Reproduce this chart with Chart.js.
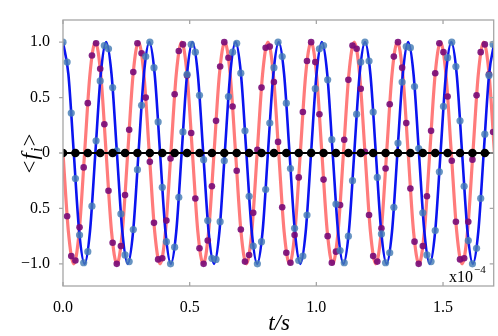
<!DOCTYPE html>
<html>
<head>
<meta charset="utf-8">
<script src="https://cdn.jsdelivr.net/npm/chart.js@4.4.1/dist/chart.umd.min.js"></script>
<style>
  html, body { margin: 0; padding: 0; background: #fff; }
  #wrap { width: 498px; height: 336px; position: relative; }
</style>
</head>
<body>
<div id="wrap"><canvas id="chartCanvas"></canvas></div>
<script>
// time axis in units of 1e-4 s
const xTickVals = [0, 0.5, 1.0, 1.5];
const xTickLabels = ['0.0', '0.5', '1.0', '1.5'];
const yTickVals = [-1, -0.5, 0, 0.5, 1];
const yTickLabels = ['\u22121.0', '0.5', '0', '0.5', '1.0'];

// smooth curves (read at peaks, crossings and half-way points)
const curveT = [0, 0.0213, 0.0426, 0.0639, 0.0852, 0.1064, 0.1277, 0.1490, 0.1703, 0.1916,
  0.2129, 0.2342, 0.2555, 0.2767, 0.2980, 0.3193, 0.3406, 0.3619, 0.3832, 0.4045,
  0.4258, 0.4470, 0.4683, 0.4896, 0.5109, 0.5322, 0.5535, 0.5748, 0.5961, 0.6174,
  0.6386, 0.6599, 0.6812, 0.7025, 0.7238, 0.7451, 0.7664, 0.7877, 0.8089, 0.8302,
  0.8515, 0.8728, 0.8941, 0.9154, 0.9367, 0.9580, 0.9792, 1.0005, 1.0218, 1.0431,
  1.0644, 1.0857, 1.1070, 1.1283, 1.1496, 1.1708, 1.1921, 1.2134, 1.2347, 1.2560,
  1.2773, 1.2986, 1.3199, 1.3411, 1.3624, 1.3837, 1.4050, 1.4263, 1.4476, 1.4689,
  1.4902, 1.5114, 1.5327, 1.5540, 1.5753, 1.5966, 1.6179, 1.6392, 1.6605, 1.6818, 1.7030];
const blueCurve = [1, 0.71, 0, -0.71, -1, -0.71, 0, 0.71, 1, 0.71,
  0, -0.71, -1, -0.71, 0, 0.71, 1, 0.71, 0, -0.71,
  -1, -0.71, 0, 0.71, 1, 0.71, 0, -0.71, -1, -0.71,
  0, 0.71, 1, 0.71, 0, -0.71, -1, -0.71, 0, 0.71,
  1, 0.71, 0, -0.71, -1, -0.71, 0, 0.71, 1, 0.71,
  0, -0.71, -1, -0.71, 0, 0.71, 1, 0.71, 0, -0.71,
  -1, -0.71, 0, 0.71, 1, 0.71, 0, -0.71, -1, -0.71,
  0, 0.71, 1, 0.71, 0, -0.71, -1, -0.71, 0, 0.71, 1];
const pinkCurve = [0, -0.71, -1, -0.71, 0, 0.71, 1, 0.71, 0, -0.71,
  -1, -0.71, 0, 0.71, 1, 0.71, 0, -0.71, -1, -0.71,
  0, 0.71, 1, 0.71, 0, -0.71, -1, -0.71, 0, 0.71,
  1, 0.71, 0, -0.71, -1, -0.71, 0, 0.71, 1, 0.71,
  0, -0.71, -1, -0.71, 0, 0.71, 1, 0.71, 0, -0.71,
  -1, -0.71, 0, 0.71, 1, 0.71, 0, -0.71, -1, -0.71,
  0, 0.71, 1, 0.71, 0, -0.71, -1, -0.71, 0, 0.71,
  1, 0.71, 0, -0.71, -1, -0.71, 0, 0.71, 1, 0.71, 0];

// sampled points
const sampleT = [0, 0.0163, 0.0326, 0.0490, 0.0653, 0.0816, 0.0979, 0.1143, 0.1306, 0.1469,
  0.1632, 0.1796, 0.1959, 0.2122, 0.2285, 0.2449, 0.2612, 0.2775, 0.2938, 0.3102,
  0.3265, 0.3428, 0.3591, 0.3755, 0.3918, 0.4081, 0.4244, 0.4407, 0.4571, 0.4734,
  0.4897, 0.5060, 0.5224, 0.5387, 0.5550, 0.5713, 0.5877, 0.6040, 0.6203, 0.6366,
  0.6530, 0.6693, 0.6856, 0.7019, 0.7183, 0.7346, 0.7509, 0.7672, 0.7836, 0.7999,
  0.8162, 0.8325, 0.8488, 0.8652, 0.8815, 0.8978, 0.9141, 0.9305, 0.9468, 0.9631,
  0.9794, 0.9958, 1.0121, 1.0284, 1.0447, 1.0611, 1.0774, 1.0937, 1.1100, 1.1264,
  1.1427, 1.1590, 1.1753, 1.1917, 1.2080, 1.2243, 1.2406, 1.2569, 1.2733, 1.2896,
  1.3059, 1.3222, 1.3386, 1.3549, 1.3712, 1.3875, 1.4039, 1.4202, 1.4365, 1.4528,
  1.4692, 1.4855, 1.5018, 1.5181, 1.5345, 1.5508, 1.5671, 1.5834, 1.5997, 1.6161,
  1.6324, 1.6487, 1.6650, 1.6814, 1.6977];
const blueDots = [1.00, 0.82, 0.36, -0.23, -0.74, -0.99, -0.89, -0.48, 0.11, 0.65,
  0.97, 0.94, 0.59, 0.02, -0.55, -0.92, -0.98, -0.69, -0.15, 0.43,
  0.87, 1.00, 0.77, 0.28, -0.31, -0.80, -1.00, -0.85, -0.40, 0.19,
  0.71, 0.98, 0.91, 0.52, -0.06, -0.61, -0.95, -0.96, -0.62, -0.07,
  0.51, 0.91, 0.99, 0.72, 0.20, -0.39, -0.84, -1.00, -0.80, -0.33,
  0.27, 0.77, 1.00, 0.87, 0.45, -0.14, -0.68, -0.97, -0.93, -0.56,
  0.01, 0.58, 0.94, 0.97, 0.66, 0.12, -0.46, -0.88, -0.99, -0.75,
  -0.25, 0.35, 0.82, 1.00, 0.83, 0.37, -0.22, -0.73, -0.99, -0.90,
  -0.49, 0.09, 0.64, 0.96, 0.95, 0.60, 0.04, -0.54, -0.92, -0.98,
  -0.70, -0.17, 0.42, 0.86, 1.00, 0.78, 0.29, -0.30, -0.79, -1.00,
  -0.86, -0.41, 0.17, 0.70, 0.98];
const pinkDots = [0.00, -0.57, -0.93, -0.97, -0.67, -0.13, 0.45, 0.88, 0.99, 0.76,
  0.26, -0.34, -0.81, -1.00, -0.84, -0.38, 0.21, 0.73, 0.99, 0.90,
  0.50, -0.08, -0.63, -0.96, -0.95, -0.61, -0.05, 0.53, 0.92, 0.98,
  0.70, 0.18, -0.41, -0.86, -1.00, -0.79, -0.30, 0.29, 0.78, 1.00,
  0.86, 0.42, -0.16, -0.69, -0.98, -0.92, -0.54, 0.03, 0.59, 0.95,
  0.96, 0.64, 0.10, -0.49, -0.90, -0.99, -0.74, -0.22, 0.37, 0.83,
  1.00, 0.82, 0.35, -0.24, -0.75, -0.99, -0.89, -0.47, 0.12, 0.66,
  0.97, 0.94, 0.58, 0.01, -0.56, -0.93, -0.98, -0.68, -0.14, 0.44,
  0.87, 1.00, 0.77, 0.27, -0.32, -0.80, -1.00, -0.84, -0.39, 0.20,
  0.72, 0.99, 0.91, 0.51, -0.07, -0.62, -0.96, -0.95, -0.62, -0.06,
  0.52, 0.91, 0.98, 0.71, 0.19];

// zero reference
const blackT = [0, 0.0490, 0.0979, 0.1469, 0.1959, 0.2449, 0.2938, 0.3428, 0.3918, 0.4407,
  0.4897, 0.5387, 0.5877, 0.6366, 0.6856, 0.7346, 0.7836, 0.8325, 0.8815, 0.9305,
  0.9794, 1.0284, 1.0774, 1.1264, 1.1753, 1.2243, 1.2733, 1.3222, 1.3712, 1.4202,
  1.4692, 1.5181, 1.5671, 1.6161, 1.6650];
const blackDots = blackT.map(() => 0);
const zeroLineT = [0, 1.70];
const zeroLineY = [0, 0];

const pts = (xs, ys) => xs.map((x, i) => ({ x: x, y: ys[i] }));

const SERIF = "'Liberation Serif', serif";
const frameColor = '#a6a6a6';
Chart.defaults.font.family = SERIF;

const decorPlugin = {
  id: 'decor',
  afterDraw(chart) {
    const ctx = chart.ctx;
    const a = chart.chartArea;
    const xs = chart.scales.x, ys = chart.scales.y;
    ctx.save();
    // frame
    ctx.strokeStyle = frameColor;
    ctx.lineWidth = 1.3;
    ctx.strokeRect(a.left, a.top, a.right - a.left, a.bottom - a.top);
    // tick marks
    ctx.beginPath();
    xTickVals.forEach(v => {
      const px = xs.getPixelForValue(v);
      ctx.moveTo(px, a.bottom); ctx.lineTo(px, a.bottom - 4);
      ctx.moveTo(px, a.top); ctx.lineTo(px, a.top + 4);
    });
    yTickVals.forEach(v => {
      const py = ys.getPixelForValue(v);
      ctx.moveTo(a.left, py); ctx.lineTo(a.left - 4, py);
      ctx.moveTo(a.right, py); ctx.lineTo(a.right - 4, py);
    });
    ctx.stroke();

    ctx.fillStyle = '#000';
    // x axis title
    ctx.font = 'italic 23px ' + SERIF;
    ctx.textAlign = 'center';
    ctx.textBaseline = 'alphabetic';
    ctx.fillText('t/s', 279, 330);

    // y axis title <f_i>
    ctx.save();
    ctx.translate(37, 153);
    ctx.rotate(-Math.PI / 2);
    ctx.textAlign = 'left';
    const parts = [
      { t: '<', f: '23px ' + SERIF, dy: 0 },
      { t: 'f', f: 'italic 23px ' + SERIF, dy: 0 },
      { t: 'i', f: 'italic 16px ' + SERIF, dy: 5 },
      { t: '>', f: '23px ' + SERIF, dy: 0 }
    ];
    let w = 0;
    parts.forEach(p => { ctx.font = p.f; w += ctx.measureText(p.t).width + 1; });
    let x0 = -w / 2;
    parts.forEach(p => {
      ctx.font = p.f;
      ctx.fillText(p.t, x0, p.dy);
      x0 += ctx.measureText(p.t).width + 1;
    });
    ctx.restore();

    // multiplier
    ctx.textAlign = 'left';
    ctx.font = '16px ' + SERIF;
    ctx.fillText('x10', 449, 282);
    ctx.font = '11px ' + SERIF;
    ctx.fillText('\u22124', 474, 273);
    ctx.restore();
  }
};

const ctx = document.getElementById('chartCanvas').getContext('2d');
new Chart(ctx, {
  type: 'scatter',
  data: {
    datasets: [
      {
        label: 'zero dots',
        data: pts(blackT, blackDots),
        showLine: false,
        pointRadius: 4.3,
        pointBackgroundColor: '#000',
        pointBorderWidth: 0,
        order: 0
      },
      {
        label: 'zero line',
        data: pts(zeroLineT, zeroLineY),
        showLine: true,
        borderColor: '#000',
        borderWidth: 2.2,
        pointRadius: 0,
        order: 1
      },
      {
        label: 'blue samples',
        data: pts(sampleT, blueDots),
        showLine: false,
        pointRadius: 3.6,
        pointBackgroundColor: 'rgba(70,125,180,0.82)',
        pointBorderWidth: 0,
        order: 2
      },
      {
        label: 'pink samples',
        data: pts(sampleT, pinkDots),
        showLine: false,
        pointRadius: 3.3,
        pointBackgroundColor: 'rgba(120,10,120,0.9)',
        pointBorderWidth: 0,
        order: 3
      },
      {
        label: 'blue',
        data: pts(curveT, blueCurve),
        showLine: true,
        cubicInterpolationMode: 'monotone',
        borderColor: '#0a14f0',
        borderWidth: 2.6,
        pointRadius: 0,
        order: 4
      },
      {
        label: 'pink',
        data: pts(curveT, pinkCurve),
        showLine: true,
        cubicInterpolationMode: 'monotone',
        borderColor: '#ff7b7b',
        borderWidth: 3.2,
        pointRadius: 0,
        order: 5
      }
    ]
  },
  options: {
    responsive: true,
    maintainAspectRatio: false,
    animation: false,
    layout: { padding: { top: 20, right: 3, left: 0, bottom: 0 } },
    plugins: {
      legend: { display: false },
      tooltip: { enabled: false }
    },
    scales: {
      x: {
        type: 'linear',
        min: 0,
        max: 1.70,
        afterFit(s) { s.height = 50; },
        afterBuildTicks(s) { s.ticks = xTickVals.map(v => ({ value: v })); },
        grid: { display: false },
        border: { display: false },
        ticks: {
          padding: 4,
          color: '#000',
          font: { family: SERIF, size: 16 },
          maxRotation: 0,
          callback: (v, i) => xTickLabels[i]
        }
      },
      y: {
        type: 'linear',
        min: -1.2,
        max: 1.2,
        afterFit(s) { s.width = 63; },
        afterBuildTicks(s) { s.ticks = yTickVals.map(v => ({ value: v })); },
        grid: { display: false },
        border: { display: false },
        ticks: {
          padding: 5,
          color: '#000',
          font: { family: SERIF, size: 16 },
          callback: (v, i) => yTickLabels[i]
        }
      }
    }
  },
  plugins: [decorPlugin]
});
</script>
</body>
</html>
